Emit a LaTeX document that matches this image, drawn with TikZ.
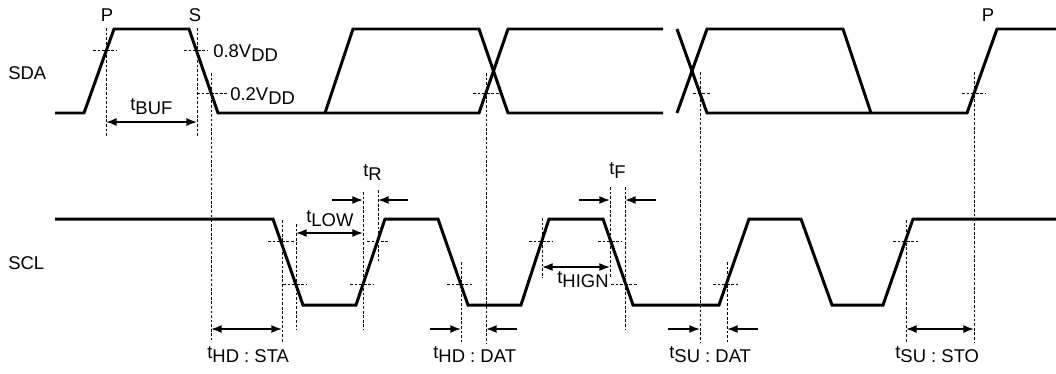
\documentclass[tikz,border=0pt]{standalone}
\usepackage{fontspec}
\setmainfont{Liberation Sans}
\usepackage{tikz}
\usetikzlibrary{calc}
\usetikzlibrary{arrows.meta}
\tikzset{>={Latex[length=6pt,width=4.5pt]}}
\tikzset{
	wave/.style={line width=1.7pt, black},
	guide/.style={line width=0.5pt, dash pattern=on 1.6pt off 1pt, black},
	dim/.style={line width=0.9pt, black},
	lbl/.style={inner sep=0pt, font=\fontsize{10.5}{12}\selectfont},
}
\newcommand{\lowsub}[1]{\raisebox{-0.45ex}{#1}}

\begin{document}
\begin{tikzpicture}[x=0.02cm, y=-0.02cm]
	\useasboundingbox (0,0) rectangle (1056,373);

	%% Signal names
	\node[lbl, anchor=west] (sda) at (8,73) {SDA};
	\node[lbl, anchor=west] (scl) at (8,263) {SCL};

	%% SDA
	\draw[wave] (55,113) -- (84,113) -- (114,29) -- (189,29) -- (218,113)
		-- (479,113) -- (508,29) -- (663,29);
	\draw[wave] (325,113) -- (353,29) -- (479,29) -- (508,113) -- (663,113);
	\draw[wave] (677,29) -- (707,113) -- (967,113) -- (997,29) -- (1056,29);
	\draw[wave] (677,113) -- (707,29) -- (843,29) -- (871,113);

	%% SCL
	\draw[wave] (55,219) -- (273,219) -- (303,305) -- (356,305) -- (385,219)
		-- (438,219) -- (468,305) -- (521,305) -- (549,219) -- (603,219)
		-- (633,305) -- (719,305) -- (749,219) -- (801,219) -- (832,305)
		-- (883,305) -- (913,219) -- (1056,219);

	%% Level marks on SDA
	\draw[guide] (93,50) -- (117,50);
	\draw[guide] (184,50) -- (208,50);
	\draw[guide] (197,93) -- (227,93);
	\draw[guide] (473,93) -- (499,93);
	\draw[guide] (693,93) -- (711,93);
	\draw[guide] (962,93) -- (985,93);
	%
	\draw[guide] (106,28) -- (106,137);
	\draw[guide] (197,28) -- (197,137);
	\draw[guide] (211,73) -- (211,340);
	\draw[guide] (486,73) -- (486,343);
	\draw[guide] (700,72) -- (700,343);
	\draw[guide] (974,72) -- (974,343);

	%% Level marks on SCL
	\draw[guide] (268,241) -- (295,241);
	\draw[guide] (283,284) -- (307,284);
	\draw[guide] (350,284) -- (373,284);
	\draw[guide] (367,241) -- (389,241);
	\draw[guide] (447,284) -- (472,284);
	\draw[guide] (529,241) -- (553,241);
	\draw[guide] (598,241) -- (622,241);
	\draw[guide] (611,284) -- (637,284);
	\draw[guide] (713,284) -- (738,284);
	\draw[guide] (893,241) -- (918,241);
	%
	\draw[guide] (282,220) -- (282,343);
	\draw[guide] (296,224) -- (296,330);
	\draw[guide] (363,192) -- (363,330);
	\draw[guide] (378,190) -- (378,262);
	\draw[guide] (461,262) -- (461,343);
	\draw[guide] (542,218) -- (542,278);
	\draw[guide] (610,187) -- (610,278);
	\draw[guide] (625,187) -- (625,330);
	\draw[guide] (727,262) -- (727,343);
	\draw[guide] (906,220) -- (906,343);

	%% Arrow ends
	\coordinate (buf-l) at (106,122);
	\coordinate (buf-r) at (197,122);
	\coordinate (hdsta-l) at (211,329);
	\coordinate (hdsta-r) at (282,329);
	\coordinate (low-l) at (296,233);
	\coordinate (low-r) at (363,233);
	\coordinate (r-a) at (332,200);
	\coordinate (r-b) at (363,200);
	\coordinate (r-c) at (378,200);
	\coordinate (r-d) at (408,200);
	\coordinate (hddat-a) at (430,329);
	\coordinate (hddat-b) at (461,329);
	\coordinate (hddat-c) at (486,329);
	\coordinate (hddat-d) at (517,329);
	\coordinate (hign-l) at (542,267);
	\coordinate (hign-r) at (610,267);
	\coordinate (f-a) at (579,200);
	\coordinate (f-b) at (610,200);
	\coordinate (f-c) at (625,200);
	\coordinate (f-d) at (656,200);
	\coordinate (sudat-a) at (668,329);
	\coordinate (sudat-b) at (700,329);
	\coordinate (sudat-c) at (727,329);
	\coordinate (sudat-d) at (758,329);
	\coordinate (susto-l) at (906,329);
	\coordinate (susto-r) at (974,329);

	%% Timing arrows
	\draw[dim, <->] (buf-l) -- (buf-r);
	\draw[dim, <->] (hdsta-l) -- (hdsta-r);
	\draw[dim, <->] (low-l) -- (low-r);
	\draw[dim, ->] (r-a) -- (r-b);
	\draw[dim, ->] (r-d) -- (r-c);
	\draw[dim, ->] (hddat-a) -- (hddat-b);
	\draw[dim, ->] (hddat-d) -- (hddat-c);
	\draw[dim, <->] (hign-l) -- (hign-r);
	\draw[dim, ->] (f-a) -- (f-b);
	\draw[dim, ->] (f-d) -- (f-c);
	\draw[dim, ->] (sudat-a) -- (sudat-b);
	\draw[dim, ->] (sudat-d) -- (sudat-c);
	\draw[dim, <->] (susto-l) -- (susto-r);

	%% Labels
	\node[lbl] (p-one) at (107,15) {P};
	\node[lbl] (s-one) at (195,15) {S};
	\node[lbl] (p-two) at (988,15) {P};
	\node[lbl, anchor=base west] (vhi) at (213,57) {0.8V\lowsub{DD}};
	\node[lbl, anchor=base west] (vlo) at (230,100) {0.2V\lowsub{DD}};
	%
	\node[lbl, anchor=base west] (tbuf) at (130,110) {t\lowsub{BUF}};
	\node[lbl, anchor=base west] (tlow) at (306,222) {t\lowsub{LOW}};
	\node[lbl, anchor=base west] (tr) at (363,176) {t\lowsub{R}};
	\node[lbl, anchor=base west] (tf) at (609,174) {t\lowsub{F}};
	\node[lbl, anchor=base west] (thign) at (557,283) {t\lowsub{HIGN}};
	\node[lbl, anchor=base west] (thdsta) at (207,358) {t\lowsub{HD : STA}};
	\node[lbl, anchor=base west] (thddat) at (433,358) {t\lowsub{HD : DAT}};
	\node[lbl, anchor=base west] (tsudat) at (669,358) {t\lowsub{SU : DAT}};
	\node[lbl, anchor=base west] (tsusto) at (895,358) {t\lowsub{SU : STO}};

\end{tikzpicture}
\end{document}
